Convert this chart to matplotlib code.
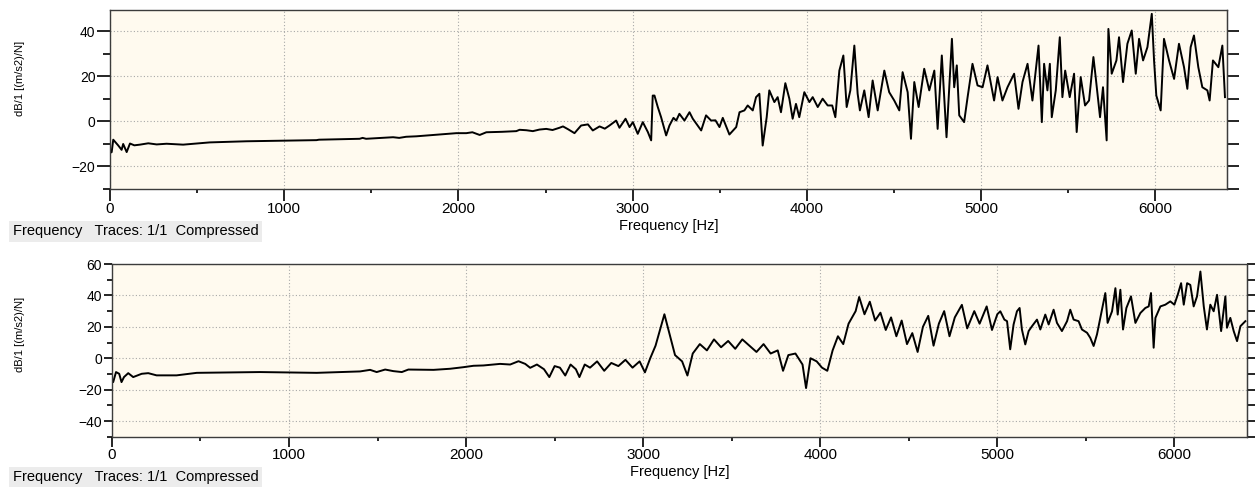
import numpy as np
import matplotlib
matplotlib.use('Agg')
import matplotlib.pyplot as plt
from matplotlib.ticker import MultipleLocator

plt.rcParams['font.family'] = ['Liberation Sans', 'DejaVu Sans']

# top trace (frequency in Hz, level in dB)
top_freq = [0, 10, 19, 48, 67, 76, 96, 115, 140, 172, 220, 268, 325, 420, 573, 784,
            1185, 1200, 1433, 1450, 1470, 1625, 1660, 1700, 1758, 1892, 1988, 2045, 2080,
            2122, 2160, 2250, 2332, 2351, 2390, 2427, 2465, 2504, 2540, 2580, 2600, 2630,
            2666, 2704, 2743, 2771, 2810, 2840, 2867, 2905, 2924, 2959, 2982, 3001, 3029,
            3058, 3087, 3106, 3115, 3125, 3144, 3163, 3192, 3211, 3234, 3250, 3268, 3297,
            3326, 3345, 3393, 3421, 3450, 3475, 3498, 3517, 3555, 3594, 3613, 3641, 3660,
            3689, 3708, 3727, 3746, 3769, 3784, 3813, 3832, 3851, 3876, 3899, 3918, 3937,
            3956, 3985, 4014, 4033, 4062, 4090, 4119, 4145, 4163, 4186, 4209, 4228, 4249,
            4272, 4291, 4304, 4329, 4354, 4377, 4406, 4444, 4472, 4501, 4530, 4549, 4578,
            4597, 4616, 4641, 4673, 4702, 4731, 4750, 4774, 4801, 4832, 4845, 4860, 4874,
            4902, 4922, 4950, 4979, 5008, 5036, 5074, 5094, 5122, 5151, 5189, 5214, 5237,
            5266, 5294, 5329, 5348, 5361, 5380, 5394, 5405, 5428, 5451, 5466, 5482, 5508,
            5533, 5548, 5571, 5596, 5619, 5644, 5657, 5682, 5699, 5720, 5730, 5749, 5776,
            5791, 5814, 5839, 5864, 5887, 5906, 5929, 5954, 5979, 5992, 6005, 6030, 6049,
            6078, 6107, 6135, 6164, 6183, 6202, 6221, 6246, 6269, 6298, 6311, 6330, 6361,
            6384, 6399]
top_db = [-14, -13.6, -8.1, -10.7, -12.6, -10, -13.6, -9.8, -10.6, -10.3, -9.7, -10.2, -9.9,
          -10.3, -9.3, -8.8, -8.3, -8.1, -7.7, -7.3, -7.7, -7.0, -7.3, -6.8, -6.6, -5.8,
          -5.2, -5.2, -4.8, -6.0, -4.8, -4.6, -4.3, -3.7, -3.9, -4.3, -3.6, -3.3, -3.8,
          -2.8, -2.2, -3.5, -5.2, -1.8, -1.3, -4.0, -2.2, -3.2, -1.8, 0.4, -2.8, 1.2, -2.5,
          -0.3, -5.5, -0.3, -4.7, -8.4, 11.5, 11.5, 6.4, 1.9, -6.2, -1.8, 1.6, 0.4, 3.4,
          0.4, 4.1, 1.2, -4.0, 2.7, 0.4, 0.5, -2.5, 1.6, -5.8, -2.5, 4.1, 4.9, 7.1, 4.9,
          10.8, 12.3, -10.7, 1.9, 13.8, 8.6, 10.8, 4.1, 17.0, 10.1, 1.2, 7.8, 1.9, 13.0,
          8.6, 10.8, 6.4, 10.1, 7.1, 7.1, 1.9, 22.6, 29.3, 6.4, 13.8, 33.7, 12.3, 4.9,
          13.8, 1.9, 18.2, 4.9, 22.6, 13, 9.3, 4.9, 21.9, 13, -7.7, 17.5, 6.4, 23.4, 13.8,
          22.6, -3.3, 29.3, -7.0, 36.7, 15.2, 24.9, 2.7, -0.3, 10.8, 25.6, 16, 15.2, 24.9,
          9.3, 19.7, 9.3, 15.2, 21.2, 5.6, 17.5, 25.6, 9.3, 33.7, -0.3, 25.6, 13.8, 25.6,
          1.9, 13.8, 37.4, 10.8, 22.6, 10.8, 21.2, -4.7, 19.7, 7.1, 9.3, 28.6, 19.7, 1.9,
          15.2, -8.4, 41.1, 21.2, 27.1, 37.4, 17.5, 34.5, 40.4, 21.2, 36.7, 27.1, 33,
          47.8, 27.1, 11.5, 4.9, 36.7, 27.1, 18.9, 34.5, 24.1, 14.5, 33, 38.2, 24.1, 15.2,
          13.8, 9.3, 27.1, 24.1, 33.7, 10.8]

# bottom trace
bot_freq = [0, 7, 23, 41, 54, 68, 92, 120, 168, 205, 252, 365, 479, 836, 1156, 1401, 1458,
            1495, 1543, 1589, 1637, 1674, 1816, 1910, 1985, 2042, 2098, 2192, 2249, 2296,
            2334, 2362, 2400, 2440, 2470, 2500, 2530, 2560, 2590, 2620, 2640, 2670, 2700,
            2740, 2780, 2820, 2860, 2900, 2940, 2980, 3010, 3040, 3070, 3100, 3120, 3150,
            3180, 3220, 3250, 3280, 3320, 3360, 3400, 3440, 3480, 3520, 3560, 3600, 3640,
            3680, 3720, 3760, 3790, 3820, 3860, 3900, 3920, 3945, 3980, 4010, 4040, 4070,
            4100, 4130, 4160, 4200, 4220, 4250, 4280, 4310, 4340, 4370, 4400, 4430, 4460,
            4490, 4520, 4550, 4580, 4610, 4640, 4670, 4700, 4730, 4760, 4800, 4830, 4870,
            4900, 4940, 4970, 5000, 5017, 5040, 5055, 5073, 5092, 5111, 5126, 5139, 5158,
            5177, 5196, 5224, 5243, 5271, 5290, 5318, 5337, 5365, 5394, 5412, 5431, 5459,
            5478, 5507, 5525, 5544, 5563, 5582, 5610, 5623, 5648, 5667, 5680, 5695, 5710,
            5729, 5755, 5780, 5808, 5836, 5855, 5868, 5883, 5893, 5921, 5949, 5977, 6000,
            6019, 6038, 6053, 6072, 6090, 6109, 6128, 6147, 6166, 6184, 6203, 6222, 6241,
            6264, 6288, 6297, 6316, 6335, 6354, 6373, 6401]
bot_db = [-15, -15.2, -8.8, -9.9, -15.2, -12, -9.5, -12, -9.9, -9.5, -10.9, -10.9, -9.3,
          -8.8, -9.3, -8.4, -7.4, -8.8, -7.2, -8.2, -8.8, -7.2, -7.4, -6.7, -5.7, -4.8,
          -4.6, -3.6, -4.0, -1.9, -3.6, -6.1, -4, -7, -12, -5, -6, -11, -4, -7, -12, -4,
          -6, -2, -8, -3, -5, -1, -6, -2, -9, 0, 8, 20, 28, 15, 2, -2, -11, 3, 9, 5, 12, 7,
          11, 6, 12, 8, 4, 9, 3, 5, -8, 2, 3, -4, -19, 0, -2, -6, -8, 5, 14, 9, 22, 30,
          39, 28, 36, 24, 29, 18, 26, 14, 24, 9, 16, 4, 20, 27, 8, 22, 30, 14, 26, 34, 19,
          30, 22, 33, 18, 28, 29.9, 24.6, 23.6, 5.7, 21.5, 29.9, 32, 18.3, 8.8, 17.3, 20.4,
          24.6, 18.3, 27.8, 21.5, 30.9, 22.5, 17.3, 23.6, 30.9, 24.6, 23.6, 18.3, 16.2, 13,
          7.8, 15.2, 25.7, 41.5, 22.5, 29.9, 44.6, 27.8, 43.6, 18.3, 32, 39.4, 22.5, 28.8,
          32, 33, 41.5, 6.7, 25.7, 33, 34.1, 36.2, 34.1, 40.4, 47.8, 34.1, 47.8, 46.7, 33,
          39.4, 55.2, 33, 18.3, 34.1, 29.9, 40.4, 17.3, 39.4, 19.4, 25.7, 17.3, 10.9, 20.4,
          23.6]

bg = '#fffaef'
spine_col = '#3c3c3c'
grid_col = '#a8a8a8'

fig = plt.figure(figsize=(12.55, 4.88), dpi=100)


def setup(ax, ylim, left_len, right_len, xlen):
    ax.set_facecolor(bg)
    ax.set_xlim(0, 6410)
    ax.set_ylim(*ylim)
    ax.xaxis.set_major_locator(MultipleLocator(1000))
    ax.xaxis.set_minor_locator(MultipleLocator(500))
    ax.yaxis.set_major_locator(MultipleLocator(20))
    ax.yaxis.set_minor_locator(MultipleLocator(10))
    ax.grid(True, which='major', color=grid_col, linestyle=(0, (1, 2)), linewidth=0.8)
    for s in ax.spines.values():
        s.set_color(spine_col)
        s.set_linewidth(1.0)
    ax.tick_params(axis='y', which='major', length=left_len, width=1.2, color='black',
                   labelsize=10, pad=1)
    ax.tick_params(axis='y', which='minor', length=left_len * 0.55, width=1.2, color='black')
    ax.tick_params(axis='x', which='major', length=xlen, width=1.2, color='black',
                   labelsize=11, pad=1)
    ax.tick_params(axis='x', which='minor', length=3, width=1.2, color='black')
    sec = ax.secondary_yaxis('right')
    sec.yaxis.set_major_locator(MultipleLocator(10))
    sec.tick_params(which='major', length=right_len, width=1.2, color='black',
                    labelright=False)
    sec.spines['right'].set_color(spine_col)
    ax.set_xlabel('Frequency [Hz]', fontsize=10.5, labelpad=2)


ax1 = fig.add_axes([0.0876, 0.6127, 0.890, 0.3668])
ax1.plot(top_freq, top_db, color='black', linewidth=1.4)
setup(ax1, (-30, 49.5), 9.4, 8.6, 8.6)

ax2 = fig.add_axes([0.0892, 0.105, 0.9044, 0.354])
ax2.plot(bot_freq, bot_db, color='black', linewidth=1.4)
setup(ax2, (-50, 60), 6, 5.8, 7.2)

fig.text(0.016, 0.84, 'dB/1 [(m/s2)/N]', rotation=90, ha='center', va='center', fontsize=8)
fig.text(0.016, 0.315, 'dB/1 [(m/s2)/N]', rotation=90, ha='center', va='center', fontsize=8)

box = dict(boxstyle='square,pad=0.22', facecolor='#ececec', edgecolor='none')
fig.text(0.010, 0.526, 'Frequency   Traces: 1/1  Compressed', fontsize=10.5,
         ha='left', va='center', bbox=box)
fig.text(0.010, 0.022, 'Frequency   Traces: 1/1  Compressed', fontsize=10.5,
         ha='left', va='center', bbox=box)

fig.savefig('out.png', dpi=100, facecolor='white')
